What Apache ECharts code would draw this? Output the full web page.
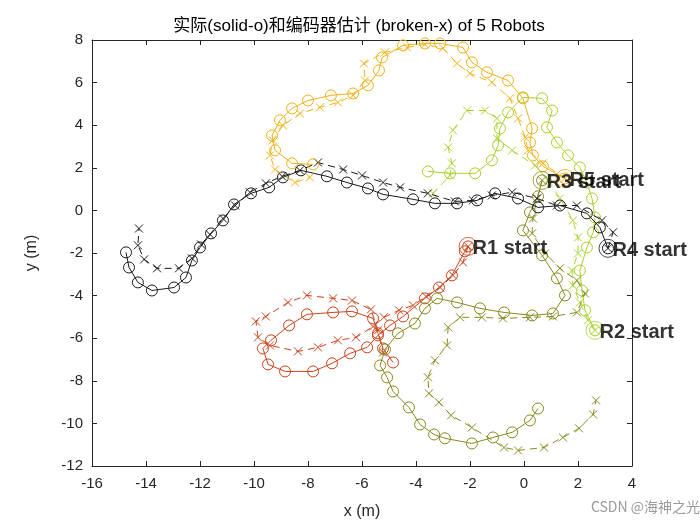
<!DOCTYPE html>
<html>
<head>
<meta charset="utf-8">
<script src="https://cdn.jsdelivr.net/npm/echarts@6/dist/echarts.min.js"></script>
<style>html,body{margin:0;padding:0;background:#fff}#c{width:700px;height:525px}</style>
</head>
<body>
<div id="c"></div>
<script>
// Axis ticks
var xTicks = [-16, -14, -12, -10, -8, -6, -4, -2, 0, 2, 4];
var yTicks = [-12, -10, -8, -6, -4, -2, 0, 2, 4, 6, 8];
var robotNames = ['R1', 'R2', 'R3', 'R4', 'R5'];

// R1 actual (solid-o) and estimate (broken-x)
var r1Actual = [[-2.07,-1.69],[-2.19,-1.92],[-2.67,-3.05],[-3.15,-3.62],[-3.67,-4.13],[-4.48,-4.98],[-4.96,-5.40],[-5.41,-5.87],[-5.81,-6.43],[-6.44,-6.71],[-7.11,-7.18],[-7.81,-7.56],[-8.85,-7.56],[-9.48,-7.23],[-9.67,-6.48],[-9.37,-6.10],[-8.70,-5.40],[-8.04,-4.88],[-7.07,-4.79],[-6.37,-4.74],[-5.59,-5.07],[-5.41,-5.77],[-5.22,-6.48],[-4.85,-7.14]];
var r1Est = [[-2.07,-1.69],[-2.26,-2.44],[-2.63,-3.05],[-3.11,-3.62],[-3.63,-4.04],[-4.11,-4.46],[-4.63,-4.69],[-5.19,-5.02],[-5.59,-5.45],[-6.22,-5.96],[-6.89,-6.10],[-7.63,-6.43],[-8.37,-6.62],[-9.41,-6.34],[-9.85,-5.96],[-9.93,-5.21],[-9.56,-4.98],[-8.74,-4.32],[-8.04,-3.99],[-7.07,-4.13],[-6.37,-4.23],[-5.67,-4.65],[-5.41,-5.63],[-5.22,-6.67]];

// R2
var r2Actual = [[2.63,-5.63],[2.26,-4.69],[2.15,-3.76],[2.07,-2.82],[2.33,-1.74],[2.56,-1.03],[2.63,-0.33],[2.52,0.56],[2.33,1.31],[2.07,2.02],[1.63,2.58],[1.22,3.19],[0.85,3.90],[1.04,4.69],[0.67,5.26],[-0.04,5.31],[-0.59,4.60],[-0.89,3.85],[-0.96,3.05],[-1.19,2.35],[-1.81,1.74],[-2.74,1.74],[-3.56,1.83]];
var r2Est = [[2.63,-5.63],[2.37,-5.16],[2.07,-4.32],[1.81,-3.52],[1.78,-2.82],[2.0,-2.02],[2.0,-1.27],[1.81,-0.47],[1.33,0.56],[0.89,1.41],[0.41,2.11],[-0.44,2.82],[-1.0,3.38],[-1.0,4.32],[-1.44,4.69],[-2.11,4.69],[-2.63,3.76],[-2.81,2.96],[-2.67,2.21],[-2.74,1.64],[-3.37,0.80]];

// R3
var r3Actual = [[0.67,1.41],[0.52,0.66],[0.22,-0.09],[-0.04,-0.94],[0.67,-2.11],[1.22,-3.19],[1.52,-3.99],[1.07,-4.84],[0.30,-4.93],[-0.74,-4.79],[-1.63,-4.60],[-2.48,-4.32],[-3.22,-4.13],[-3.67,-4.60],[-4.04,-5.31],[-4.67,-5.77],[-5.15,-6.53],[-5.33,-7.28],[-5.07,-7.84],[-4.85,-8.50],[-4.26,-9.25],[-3.85,-10.05],[-3.33,-10.52],[-2.93,-10.70],[-1.93,-10.94],[-1.15,-10.66],[-0.44,-10.42],[0.22,-9.86],[0.52,-9.30]];
var r3Est = [[0.67,1.41],[0.48,0.56],[0.33,-0.38],[0.30,-1.08],[0.78,-2.02],[1.33,-2.72],[1.96,-3.29],[2.26,-3.90],[1.96,-4.79],[1.07,-4.98],[0.22,-5.02],[-0.78,-5.07],[-1.56,-5.02],[-2.37,-5.02],[-2.81,-5.49],[-2.85,-6.34],[-3.30,-7.04],[-3.56,-7.84],[-3.52,-8.59],[-3.15,-9.01],[-2.70,-9.62],[-1.93,-10.19],[-0.74,-11.13],[-0.22,-11.27],[0.74,-11.13],[1.44,-10.66],[2.04,-10.23],[2.56,-9.58],[2.67,-8.92]];

// R4
var r4Actual = [[3.11,-1.78],[2.81,-0.80],[2.33,-0.14],[1.33,0.23],[0.52,0.14],[-0.22,0.56],[-1.07,0.80],[-1.74,0.47],[-2.48,0.33],[-3.30,0.33],[-4.11,0.52],[-5.22,0.75],[-5.78,1.03],[-6.56,1.31],[-7.30,1.60],[-8.26,1.88],[-8.93,1.55],[-9.44,1.08],[-10.11,0.80],[-10.74,0.28],[-11.15,-0.47],[-11.59,-1.08],[-12.0,-1.74],[-12.30,-2.35],[-12.52,-3.15],[-12.96,-3.62],[-13.78,-3.76],[-14.30,-3.38],[-14.63,-2.68],[-14.74,-1.97]];
var r4Est = [[3.11,-1.78],[3.30,-1.03],[2.89,-0.47],[1.96,0.23],[1.22,0.23],[0.48,0.56],[-0.44,0.85],[-1.19,0.70],[-1.89,0.47],[-2.56,0.42],[-3.56,0.80],[-4.59,1.08],[-5.22,1.31],[-6.0,1.64],[-6.70,1.92],[-7.63,2.25],[-8.3,1.88],[-8.96,1.60],[-9.56,1.27],[-10.15,0.85],[-10.70,0.23],[-11.15,-0.38],[-11.63,-1.13],[-11.96,-1.60],[-12.30,-2.25],[-12.78,-2.72],[-13.59,-2.72],[-14.07,-2.30],[-14.30,-1.64],[-14.26,-0.85]];

// R5
var r5Actual = [[1.52,1.50],[0.70,2.07],[0.33,2.58],[0.22,3.19],[0.30,3.85],[-0.04,5.26],[-0.59,6.10],[-1.37,6.48],[-1.93,6.95],[-2.26,7.65],[-3.11,7.84],[-3.67,7.84],[-4.48,7.75],[-5.26,7.18],[-5.37,6.57],[-5.78,5.87],[-6.33,5.49],[-7.15,5.40],[-8.0,5.16],[-8.59,4.79],[-9.04,4.23],[-9.33,3.52],[-9.22,2.82],[-8.59,2.21],[-7.81,2.16]];
var r5Est = [[1.52,1.50],[0.70,2.21],[0.15,2.82],[0.04,3.43],[-0.22,4.32],[-0.52,5.26],[-1.19,6.01],[-2.0,6.43],[-2.48,6.90],[-3.0,7.61],[-3.67,7.79],[-4.33,7.65],[-5.15,7.42],[-5.93,6.90],[-5.89,6.10],[-6.33,5.40],[-6.89,5.07],[-7.56,4.84],[-8.30,4.55],[-8.93,3.99],[-9.30,3.29],[-9.41,2.58],[-9.22,1.92],[-8.48,1.31],[-7.93,1.55]];

var colors = ['#c8441c', '#a8d22e', '#878a1e', '#1a1a1a', '#f0b21a'];
var actuals = [r1Actual, r2Actual, r3Actual, r4Actual, r5Actual];
var ests = [r1Est, r2Est, r3Est, r4Est, r5Est];

var xSym = 'path://M0,0L10,10M10,0L0,10';
var series = [];
for (var i = 0; i < 5; i++) {
  var c = colors[i];
  series.push({
    type: 'line', data: actuals[i], symbol: 'circle', symbolSize: 11,
    showAllSymbol: true, silent: true,
    lineStyle: { color: c, width: 1 },
    itemStyle: { color: 'rgba(0,0,0,0)', borderColor: c, borderWidth: 1 },
    z: 2 + i
  });
  series.push({
    type: 'line', data: ests[i], symbol: xSym, symbolSize: 8,
    showAllSymbol: true, silent: true,
    lineStyle: { color: c, width: 1, type: [7, 5] },
    itemStyle: { color: 'rgba(0,0,0,0)', borderColor: c, borderWidth: 1 },
    z: 2 + i
  });
}
for (var j = 0; j < 5; j++) {
  series.push({
    type: 'scatter', data: [actuals[j][0]], symbol: 'circle', symbolSize: 18,
    silent: true,
    itemStyle: { color: 'rgba(0,0,0,0)', borderColor: colors[j], borderWidth: 1 },
    label: {
      show: true, position: 'right', distance: -5, offset: [0, 2],
      formatter: robotNames[j] + ' start',
      fontFamily: 'Liberation Sans, Arial, sans-serif', fontWeight: 'bold',
      fontSize: 20, color: '#000'
    },
    z: 20
  });
}

var axisCommon = {
  type: 'value',
  axisLine: { show: true, onZero: false, lineStyle: { color: '#262626', width: 1 } },
  axisTick: { show: true, inside: true, length: 5, lineStyle: { color: '#262626' } },
  splitLine: { show: false },
  axisLabel: { color: '#262626', fontSize: 15, fontFamily: 'Liberation Sans, Arial, sans-serif' }
};

var chart = echarts.init(document.getElementById('c'));
chart.setOption({
  animation: false,
  backgroundColor: '#fff',
  title: {
    text: '实际(solid-o)和编码器估计 (broken-x) of 5 Robots',
    left: 354, top: 13, textAlign: 'center',
    textStyle: { fontSize: 17, fontWeight: 'normal', color: '#000', fontFamily: 'Liberation Sans, Noto Sans CJK SC, sans-serif' }
  },
  grid: { left: 92, right: 68, top: 40, bottom: 59 },
  xAxis: [
    Object.assign({}, axisCommon, {
      min: xTicks[0], max: xTicks[xTicks.length - 1], interval: 2, position: 'bottom',
      name: 'x (m)', nameLocation: 'middle', nameGap: 38,
      nameTextStyle: { color: '#262626', fontSize: 16, fontFamily: 'Liberation Sans, Arial, sans-serif' },
      axisLabel: Object.assign({}, axisCommon.axisLabel, { margin: 10 })
    }),
    Object.assign({}, axisCommon, {
      min: xTicks[0], max: xTicks[xTicks.length - 1], interval: 2, position: 'top',
      axisLabel: { show: false }
    })
  ],
  yAxis: [
    Object.assign({}, axisCommon, {
      min: yTicks[0], max: yTicks[yTicks.length - 1], interval: 2, position: 'left',
      name: 'y (m)', nameLocation: 'middle', nameGap: 52,
      nameTextStyle: { color: '#262626', fontSize: 16, fontFamily: 'Liberation Sans, Arial, sans-serif' },
      axisLabel: Object.assign({}, axisCommon.axisLabel, { margin: 9 })
    }),
    Object.assign({}, axisCommon, {
      min: yTicks[0], max: yTicks[yTicks.length - 1], interval: 2, position: 'right',
      axisLabel: { show: false }
    })
  ],
  graphic: [{
    type: 'text', right: 0, bottom: 11,
    style: { text: 'CSDN @海神之光', fill: '#9a9a9a', fontSize: 14, fontFamily: 'Noto Sans CJK SC, sans-serif' }
  }],
  series: series
});
</script>
</body>
</html>
